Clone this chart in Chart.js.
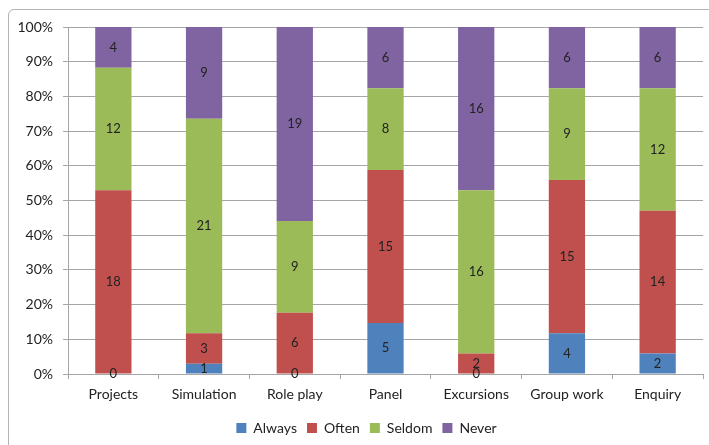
<!DOCTYPE html>
<html><head><meta charset="utf-8">
<script src="https://cdn.jsdelivr.net/npm/chart.js@4"></script>
<style>
html,body{margin:0;padding:0;background:#fff;overflow:hidden;}
#wrap{position:relative;width:709px;height:445px;overflow:hidden;}
#frame{position:absolute;left:8px;top:9px;width:800px;height:600px;border:1px solid #b4b4b4;border-radius:6px;}
canvas{position:absolute;left:0;top:0;}
</style></head><body>
<div id="wrap"><div id="frame"></div><canvas id="c" width="709" height="445"></canvas></div>
<script>
const categories = ['Projects','Simulation','Role play','Panel','Excursions','Group work','Enquiry'];
const seriesNames = ['Always','Often','Seldom','Never'];
const always = [0,1,0,5,0,4,2];
const often  = [18,3,6,15,2,15,14];
const seldom = [12,21,9,8,16,9,12];
const never  = [4,9,19,6,16,6,6];
const colors = ['#4F81BD','#C0504D','#9BBB59','#8064A2'];

const counts = [always, often, seldom, never];
const totals = categories.map((_, i) => counts.reduce((s, a) => s + a[i], 0));
const toPct = arr => arr.map((v, i) => v / totals[i] * 100);

const FONT = 'Lato, "Open Sans", sans-serif';

const labelPlugin = {
  id: 'segLabels',
  afterLayout(chart) {
    if (chart.legend) { chart.legend.left += 15; chart.legend.right += 15; }
  },
  afterDatasetsDraw(chart) {
    const ctx = chart.ctx;
    ctx.save();
    ctx.font = '13px ' + FONT;
    ctx.fillStyle = '#222';
    ctx.textAlign = 'center';
    ctx.textBaseline = 'middle';
    chart.data.datasets.forEach((ds, di) => {
      const meta = chart.getDatasetMeta(di);
      meta.data.forEach((el, i) => {
        const y = (el.y + el.base) / 2;
        ctx.fillText(String(ds.counts[i]), el.x, y);
      });
    });
    ctx.restore();
  }
};

new Chart(document.getElementById('c'), {
  type: 'bar',
  data: {
    labels: categories,
    datasets: seriesNames.map((n, k) => ({
      label: n,
      data: toPct(counts[k]),
      counts: counts[k],
      backgroundColor: colors[k],
      borderWidth: 0,
      categoryPercentage: 1,
      barPercentage: 0.4
    }))
  },
  options: {
    responsive: false,
    animation: false,
    events: [],
    layout: { padding: { top: 27, right: 6, left: 0, bottom: 0 } },
    plugins: {
      tooltip: { enabled: false },
      legend: {
        position: 'bottom',
        labels: { boxWidth: 10, boxHeight: 10, padding: 10, color: '#222', font: { family: FONT, size: 14 } }
      }
    },
    scales: {
      x: {
        stacked: true,
        grid: { drawOnChartArea: false, drawTicks: true, tickLength: 5, color: '#a6a6a6' },
        border: { display: true, color: '#a6a6a6' },
        ticks: { color: '#222', padding: 7, font: { family: FONT, size: 14 } },
        afterFit(s) { s.height = 37; }
      },
      y: {
        stacked: true,
        min: 0, max: 100,
        grid: { color: '#a6a6a6', tickLength: 5 },
        border: { display: true, color: '#a6a6a6' },
        ticks: { stepSize: 10, color: '#222', padding: 10, font: { family: FONT, size: 14 }, callback: v => v + '%' },
        afterFit(s) { s.width = 68; }
      }
    }
  },
  plugins: [labelPlugin]
});
</script>
</body></html>
